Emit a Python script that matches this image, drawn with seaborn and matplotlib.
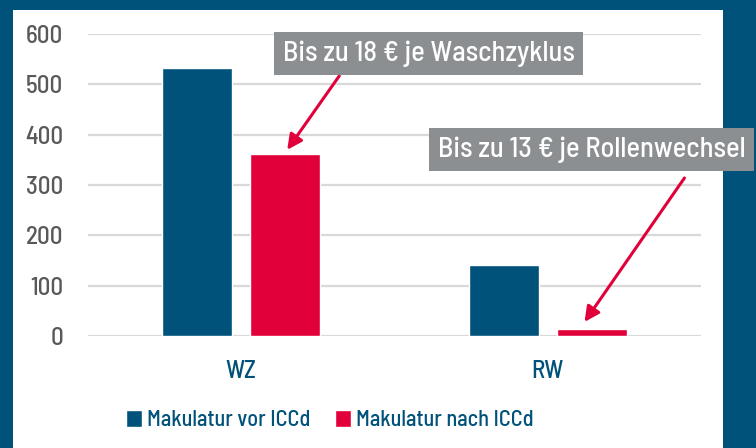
import pandas as pd
import numpy as np
import seaborn as sns
import matplotlib.pyplot as plt
from matplotlib.patches import Rectangle, Patch

# Daten
categories = ["WZ", "RW"]
series_names = ["Makulatur vor ICCd", "Makulatur nach ICCd"]
vor_iccd = [533, 141]
nach_iccd = [362, 14]
y_ticks = [0, 100, 200, 300, 400, 500, 600]

note_wz = "Bis zu 18 € je Waschzyklus"
note_rw = "Bis zu 13 € je Rollenwechsel"

BLUE = "#00527a"
RED = "#e2003a"
GREY = "#8b8f92"

sns.set_style("white")
plt.rcParams['font.family'] = ['Barlow Semi Condensed', 'DejaVu Sans']
plt.rcParams['font.weight'] = 'medium'

df = pd.DataFrame({
    "kat": categories * 2,
    "serie": [series_names[0]] * 2 + [series_names[1]] * 2,
    "wert": vor_iccd + nach_iccd,
})

fig = plt.figure(figsize=(7.56, 4.48), dpi=100)
fig.patch.set_facecolor(BLUE)
# weisses Panel innerhalb des blauen Rahmens
fig.patches.append(Rectangle((13 / 756, 0), (723 - 13) / 756, 438 / 448,
                             transform=fig.transFigure, facecolor="white",
                             edgecolor="none", zorder=-5))

ax = fig.add_axes([88 / 756, 0.25, 613 / 756, 0.674])
ax.set_facecolor("none")
sns.barplot(data=df, x="kat", y="wert", hue="serie", palette=[BLUE, RED],
            width=0.573, gap=0.205, saturation=1, legend=False, ax=ax)

ax.set_ylim(0, 600)
ax.set_xlim(-0.5, 1.5)
ax.set_yticks(y_ticks)
ax.yaxis.grid(True, color="#d9d9d9", linewidth=1.6)
ax.set_axisbelow(True)
sns.despine(ax=ax, left=True, bottom=True)
ax.tick_params(axis="y", length=0, pad=18, labelsize=18, labelcolor="#595959")
ax.tick_params(axis="x", length=0, pad=17, labelsize=18, labelcolor=BLUE)
ax.set_xlabel("")
ax.set_ylabel("")

# Hinweise mit Pfeilen
box = dict(boxstyle="square,pad=0.3", facecolor=GREY, edgecolor="none")
ax.text(0.612, 561, note_wz, ha="center", va="center", color="white",
        fontsize=20.5, bbox=box, clip_on=False, zorder=5)
ax.text(1.143, 371, note_rw, ha="center", va="center", color="white",
        fontsize=20.5, bbox=box, clip_on=False, zorder=5)
arrow = dict(arrowstyle="-|>,head_length=0.9,head_width=0.45", color=RED,
             linewidth=2.2, shrinkA=0, shrinkB=0)
ax.annotate("", xy=(0.15, 370), xytext=(0.32, 517), arrowprops=arrow,
            annotation_clip=False)
ax.annotate("", xy=(1.12, 28), xytext=(1.446, 314), arrowprops=arrow,
            annotation_clip=False)

handles = [Patch(facecolor=BLUE, label=series_names[0]),
           Patch(facecolor=RED, label=series_names[1])]
leg = fig.legend(handles=handles, loc="center", bbox_to_anchor=(0.436, 0.062),
                 ncol=2, frameon=False, fontsize=16, handlelength=0.75,
                 handleheight=0.75, handletextpad=0.2, columnspacing=1.1)
for t in leg.get_texts():
    t.set_color(BLUE)

fig.savefig("out.png", dpi=100, facecolor=fig.get_facecolor())
